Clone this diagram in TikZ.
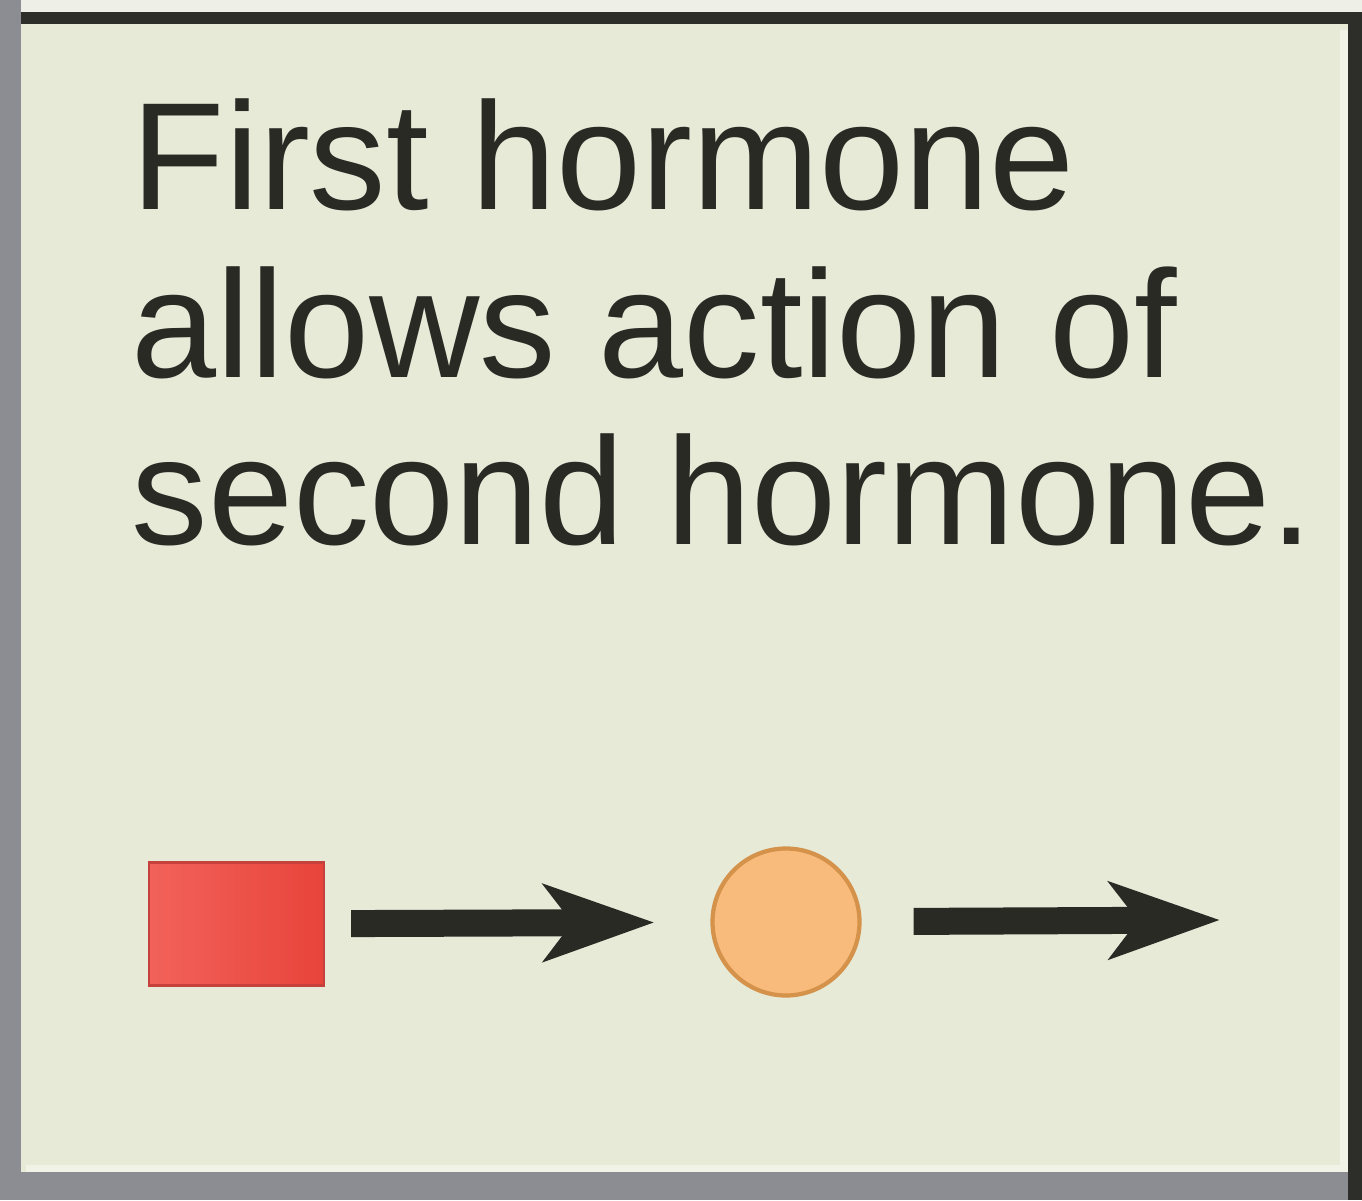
\documentclass[tikz,border=0pt]{standalone}
\usepackage{fontspec}
\setmainfont{Liberation Sans}
\usetikzlibrary{arrows.meta}
\definecolor{panelbg}{HTML}{E6EAD7}
\definecolor{panellight}{HTML}{EEF0E7}
\definecolor{panelrim}{HTML}{F0F3E6}
\definecolor{framegray}{HTML}{8B8D92}
\definecolor{framedark}{HTML}{2D2E2A}
\definecolor{inkdark}{HTML}{2A2A25}
\definecolor{squareL}{HTML}{F2625A}
\definecolor{squareR}{HTML}{E8443B}
\definecolor{squareEdge}{HTML}{C4423B}
\definecolor{circFill}{HTML}{F9BB7C}
\definecolor{circEdge}{HTML}{D4924B}

\begin{document}
\begin{tikzpicture}
  \tikzstyle{hormone1}=[rectangle,shade,left color=squareL,right color=squareR,draw=squareEdge,line width=0.6pt,minimum width=1.75cm,minimum height=1.23cm,inner sep=0pt]
  \tikzstyle{hormone2}=[circle,fill=circFill,draw=circEdge,line width=1.2pt,minimum size=1.47cm,inner sep=0pt]
  \tikzstyle{effect}=[draw=inkdark,line width=0.27cm,-{Stealth[length=1.1cm,width=0.76cm,inset=0.28cm]}]
  \useasboundingbox (0,0) rectangle (13.62,12);

  % panel and frame
  \fill[panelbg] (0,0) rectangle (13.62,12);
  \fill[panellight] (0,11.87) rectangle (13.62,12);
  \draw[panelrim,line width=2pt] (0.26,0.31) -- (13.44,0.31) -- (13.44,11.70);
  \fill[framedark] (0.18,11.76) rectangle (13.62,11.88);
  \fill[framedark] (13.48,0) rectangle (13.62,11.88);
  \fill[framegray] (0,0) rectangle (0.21,12);
  \fill[framegray] (0,0) rectangle (13.48,0.28);

  \node[anchor=base west,align=left,text=inkdark,inner sep=0pt,
        font=\fontsize{43.5}{47.8}\selectfont] (caption) at (1.31,6.55)
    {First hormone\\allows action of\\second hormone.};

  \node[hormone1] (H_1) at (2.365,2.76) {};
  \node[hormone2] (H_2) at (7.86,2.78) {};
  \coordinate (H_out) at (12.20,2.80);

  \draw[effect,shorten <=0.26cm,shorten >=0.56cm] (H_1) -- (H_2);
  \draw[effect,shorten <=0.52cm] (H_2) -- (H_out);

\end{tikzpicture}
\end{document}
